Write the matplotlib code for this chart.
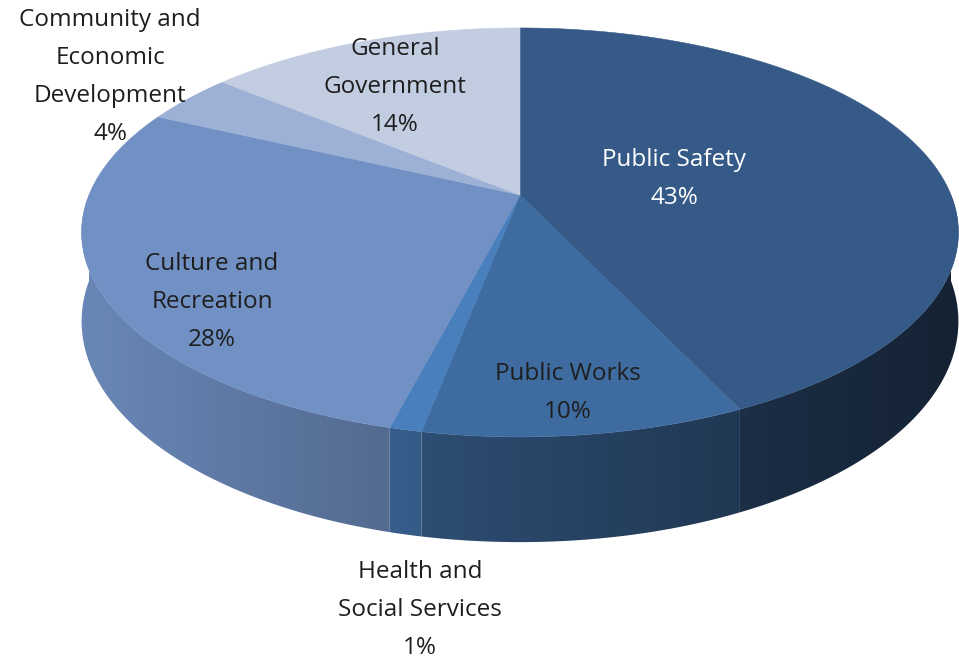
import numpy as np
import matplotlib.pyplot as plt
from matplotlib.patches import Polygon
from matplotlib.colors import to_rgb

# data
categories = ['Public Safety', 'Public Works', 'Health and\nSocial Services',
              'Culture and\nRecreation', 'Community and\nEconomic\nDevelopment',
              'General\nGovernment']
shares = [43, 10, 1, 28, 4, 14]
top_colors = ['#365a87', '#3f6ca0', '#4a7fbd', '#7191c4', '#9db1d6', '#c3cde2']

# label placement (pixel coords) and text colours
label_pos = [(674, 179), (568, 393), (420, 610), (212, 302), (110, 77), (395, 87)]
label_col = ['white', '#1e1e1e', '#1e1e1e', '#1e1e1e', '#1e1e1e', '#1e1e1e']

# 3D pie geometry (pixels)
CX, CY = 520, 195            # projected centre of the pie
A, B, K = 431, 197.6, 0.183  # half width, half depth, perspective factor
DEPTH = 86


def proj(phi):
    X, Y = np.cos(phi), np.sin(phi)
    w = 1 + K * Y
    return CX + A * X / w, CY - B * Y / w, w


def shade(x):
    u = np.clip((x - 82) / 876, 0, 1)
    return 0.93 - 0.55 * u


fig = plt.figure(figsize=(9.59, 6.62), dpi=100)
ax = fig.add_axes([0, 0, 1, 1])
ax.set_xlim(0, 959)
ax.set_ylim(662, 0)
ax.axis('off')

frac = np.array(shares) / sum(shares)
edges = np.pi / 2 - 2 * np.pi * np.concatenate([[0], np.cumsum(frac)])

# side walls (front half only) with a horizontal gradient
for i, c in enumerate(top_colors):
    start, end = edges[i], edges[i + 1]
    lo, hi = max(end, -np.pi), min(start, 0)
    if lo >= hi:
        continue
    phis = np.linspace(hi, lo, 200)
    x, y, w = proj(phis)
    pts = list(zip(x, y)) + list(zip(x[::-1], (y + DEPTH / w)[::-1]))
    poly = Polygon(pts, closed=True, facecolor='none', edgecolor='none')
    ax.add_patch(poly)
    x0, x1 = x.min() - 2, x.max() + 2
    xs = np.linspace(x0, x1, 300)
    grad = np.clip(np.outer(shade(xs), to_rgb(c)), 0, 1)[None, :, :]
    im = ax.imshow(grad, extent=[x0, x1, (y + DEPTH / w).max() + 2, y.min() - 2],
                   aspect='auto', interpolation='bilinear', zorder=1)
    im.set_clip_path(poly)

# top faces
for i, c in enumerate(top_colors):
    start, end = edges[i], edges[i + 1]
    phis = np.linspace(start, end, max(8, int(abs(start - end) * 150)))
    x, y, _ = proj(phis)
    pts = [(CX, CY)] + list(zip(x, y))
    ax.add_patch(Polygon(pts, closed=True, facecolor=c, edgecolor=c, lw=0.4, zorder=2))

ax.set_xlim(0, 959)
ax.set_ylim(662, 0)

# labels
for name, s, (lx, ly), tc in zip(categories, shares, label_pos, label_col):
    ax.text(lx, ly, f'{name}\n{s}%', ha='center', va='center', color=tc,
            fontsize=17.5, family='Open Sans', linespacing=1.76, zorder=3)

plt.savefig('out.png', dpi=100)
